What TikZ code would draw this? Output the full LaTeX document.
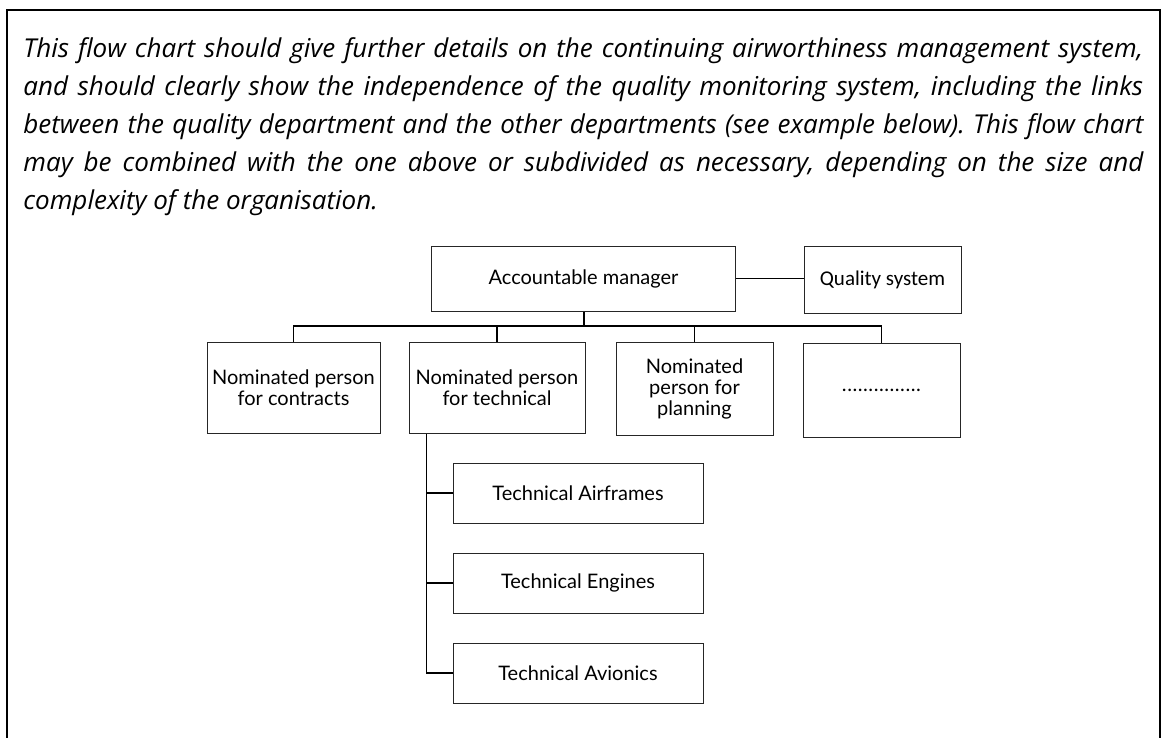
\documentclass[tikz,border=0pt]{standalone}
\usepackage{fontspec}
\setmainfont{Open Sans}
\newfontfamily\orgfont{Lato}
\newfontfamily\qualfont{Carlito}

\tikzset{
  orgbox/.style={draw=black!85,line width=0.5pt,align=center,inner sep=1pt,
    font=\orgfont\fontsize{10}{10.5}\selectfont},
  qualbox/.style={orgbox,font=\qualfont\fontsize{10.5}{11}\selectfont},
  link/.style={line width=0.55pt}
}

\begin{document}
\begin{tikzpicture}[x=0.5pt,y=-0.5pt]
\useasboundingbox (0,0) rectangle (1162,738);
\draw[line width=1pt] (7,738) -- (7,10) -- (1160,10) -- (1160,738);

\node[anchor=north west,inner sep=0pt,text width=560pt,align=justify,
  font=\itshape\fontsize{13}{19}\selectfont\frenchspacing] (note) at (23,37)
  {This flow chart should give further details on the continuing airworthiness management system,\linebreak
   and should clearly show the independence of the quality monitoring system, including the links\linebreak
   between the quality department and the other departments (see example below). This flow chart\linebreak
   may be combined with the one above or subdivided as necessary, depending on the size and\linebreak
   complexity of the organisation.};

\node[orgbox,minimum width=152pt,minimum height=32.5pt] (manager) at (583.5,278.5) {Accountable manager};
\node[qualbox,minimum width=78.5pt,minimum height=33.5pt] (quality) at (882.5,279.5) {Quality system};

\node[orgbox,minimum width=86.5pt,minimum height=45.5pt] (contracts) at (293.5,387.5) {Nominated person\\for contracts};
\node[orgbox,minimum width=88pt,minimum height=45.5pt] (technical) at (497,387.5) {Nominated person\\for technical};
\node[orgbox,minimum width=78.5pt,minimum height=46.5pt] (planning) at (694.5,388.5) {Nominated\\person for\\planning};
\node[qualbox,minimum width=78.5pt,minimum height=47pt] (others) at (881.5,390) {...............};

\node[orgbox,minimum width=125pt,minimum height=30pt] (airframes) at (578,493) {Technical Airframes};
\node[orgbox,minimum width=125pt,minimum height=30pt] (engines) at (578,583) {Technical Engines};
\node[orgbox,minimum width=125pt,minimum height=30pt] (avionics) at (578,673) {Technical Avionics};

\coordinate (bus) at (583.5,326);
\coordinate (spine) at ([xshift=9pt]technical.south west);

\draw[link] (manager.east) -- (manager.east -| quality.west);
\draw[line width=1pt] (manager.south) -- (bus);
\draw[link] (contracts.north) |- (bus) -| (others.north);
\draw[link] (technical.north) -- (technical.north |- bus);
\draw[link] (planning.north) -- (planning.north |- bus);

\draw[link] (spine) |- (avionics.west);
\draw[link] (spine |- airframes.west) -- (airframes.west);
\draw[link] (spine |- engines.west) -- (engines.west);
\end{tikzpicture}
\end{document}
